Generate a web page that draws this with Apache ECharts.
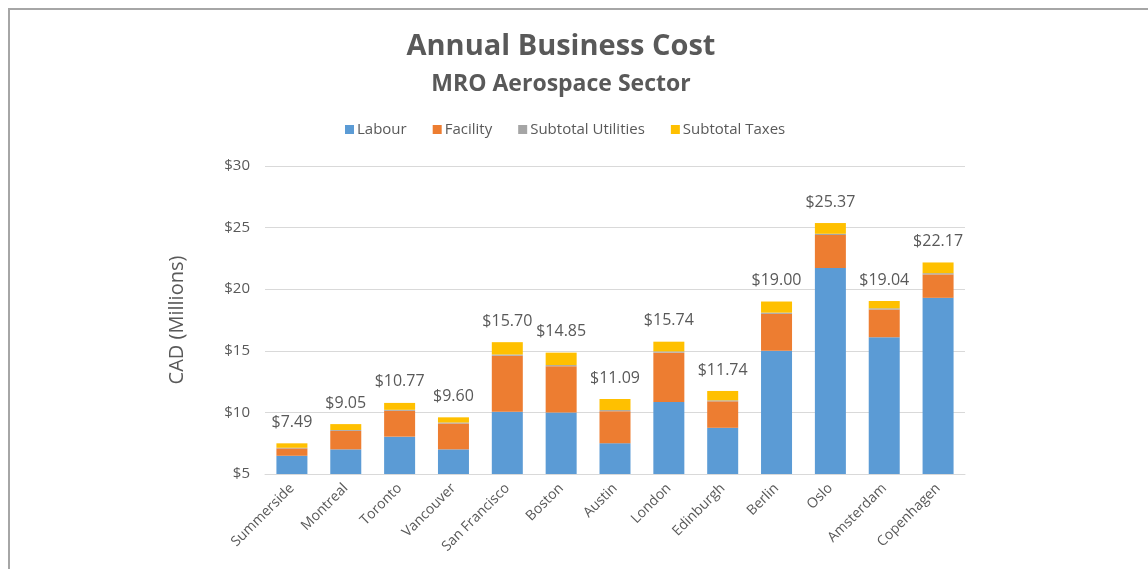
<!DOCTYPE html>
<html>
<head>
<meta charset="utf-8">
<script src="https://cdn.jsdelivr.net/npm/echarts@6/dist/echarts.min.js"></script>
<style>
html,body{margin:0;padding:0;background:#fff;}
#c{position:absolute;left:0;top:0;width:1148px;height:569px;}
#frame{position:absolute;left:8px;top:8px;width:1140px;height:561px;border-top:2px solid #a6a6a6;border-left:2px solid #a6a6a6;box-sizing:border-box;pointer-events:none;}
</style>
</head>
<body>
<div id="c"></div>
<div id="frame"></div>
<script>
const categories = ['Summerside','Montreal','Toronto','Vancouver','San Francisco','Boston','Austin','London','Edinburgh','Berlin','Oslo','Amsterdam','Copenhagen'];
const labour    = [6.48, 7.00, 8.03, 7.00, 10.05, 10.00, 7.50, 10.85, 8.75, 15.00, 21.72, 16.10, 19.30];
const facility  = [0.60, 1.50, 2.10, 2.10, 4.55, 3.75, 2.60, 4.00, 2.15, 3.00, 2.68, 2.25, 1.90];
const utilities = [0.05, 0.07, 0.08, 0.08, 0.10, 0.09, 0.09, 0.10, 0.08, 0.10, 0.10, 0.10, 0.10];
const taxes     = [0.36, 0.48, 0.56, 0.42, 1.00, 1.01, 0.90, 0.79, 0.76, 0.90, 0.87, 0.59, 0.87];
const totals    = ['$7.49','$9.05','$10.77','$9.60','$15.70','$14.85','$11.09','$15.74','$11.74','$19.00','$25.37','$19.04','$22.17'];
const yTicks    = [5, 30, 5]; // min, max, interval

const FONT = 'Open Sans';
const GREY = '#595959';
const chart = echarts.init(document.getElementById('c'), null, {renderer:'canvas'});
const barW = 31;
function bar(name, data, color, extra){
  return Object.assign({
    name, type:'bar', stack:'total', data, barWidth:barW,
    itemStyle:{color}, emphasis:{disabled:true}
  }, extra||{});
}
chart.setOption({
  animation:false,
  textStyle:{fontFamily:FONT},
  title:[
    {text:'Annual Business Cost', left:556, textAlign:'center', top:27, textStyle:{fontFamily:FONT, fontSize:29, fontWeight:'bold', color:GREY}},
    {text:'MRO Aerospace Sector', left:556, textAlign:'center', top:68, textStyle:{fontFamily:FONT, fontSize:23, fontWeight:'bold', color:GREY}}
  ],
  legend:{
    top:117, left:340, icon:'rect', itemWidth:9, itemHeight:9, itemGap:26,
    textStyle:{fontFamily:FONT, fontSize:15, color:GREY, padding:[0,0,0,-2]},
    data:['Labour','Facility','Subtotal Utilities','Subtotal Taxes']
  },
  grid:{left:265, right:183, top:166, bottom:95, containLabel:false},
  xAxis:{
    type:'category', data:categories,
    axisLine:{lineStyle:{color:'#d9d9d9', width:1}},
    axisTick:{show:false},
    axisLabel:{rotate:45, fontFamily:FONT, fontSize:14, color:GREY, margin:12, interval:0}
  },
  yAxis:{
    type:'value', min:yTicks[0], max:yTicks[1], interval:yTicks[2],
    name:'CAD (Millions)', nameLocation:'middle', nameGap:78,
    nameTextStyle:{fontFamily:FONT, fontSize:20, color:GREY},
    axisLine:{show:false}, axisTick:{show:false},
    axisLabel:{formatter:v=>'$'+v, fontFamily:FONT, fontSize:15, color:GREY, margin:15},
    splitLine:{lineStyle:{color:'#d9d9d9', width:1}}
  },
  series:[
    bar('Labour', labour, '#5B9BD5'),
    bar('Facility', facility, '#ED7D31'),
    bar('Subtotal Utilities', utilities, '#A5A5A5'),
    bar('Subtotal Taxes', taxes, '#FFC000', {
      label:{show:true, position:'top', distance:13, fontFamily:FONT, fontSize:16, color:GREY,
        formatter:p=>totals[p.dataIndex]}
    })
  ]
});
</script>
</body>
</html>
